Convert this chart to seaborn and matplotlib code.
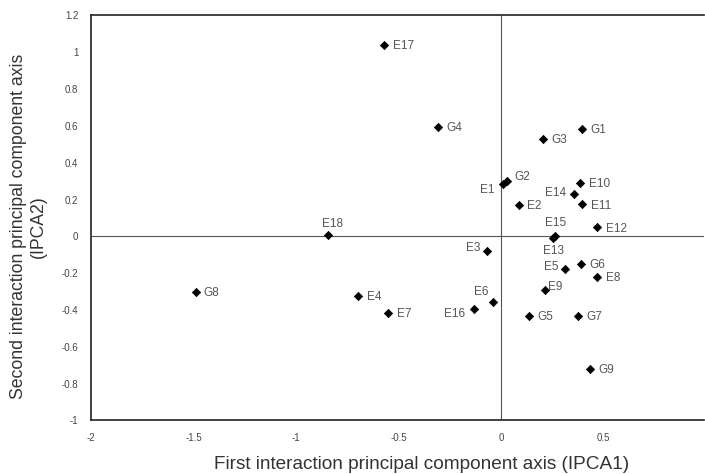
import matplotlib
matplotlib.use("Agg")
import matplotlib.pyplot as plt
import seaborn as sns
import pandas as pd

labels = ["E17", "G4", "G3", "G1", "E1", "G2", "E10", "E14", "E11", "E2",
          "E12", "E15", "E13", "E18", "E3", "G6", "E5", "E8", "E9", "E6",
          "E16", "G5", "G7", "G9", "G8", "E4", "E7"]
ipca1 = [-0.569, -0.309, 0.206, 0.397, 0.010, 0.030, 0.387, 0.358, 0.397, 0.088,
         0.470, 0.265, 0.255, -0.843, -0.069, 0.392, 0.314, 0.470, 0.216, -0.039,
         -0.132, 0.137, 0.377, 0.436, -1.490, -0.696, -0.549]
ipca2 = [1.040, 0.596, 0.530, 0.585, 0.284, 0.300, 0.290, 0.230, 0.175, 0.170,
         0.050, 0.000, -0.010, 0.005, -0.077, -0.148, -0.180, -0.220, -0.290, -0.355,
         -0.393, -0.432, -0.432, -0.720, -0.300, -0.322, -0.415]

xticks = [-2, -1.5, -1, -0.5, 0, 0.5]
yticks = [-1, -0.8, -0.6, -0.4, -0.2, 0, 0.2, 0.4, 0.6, 0.8, 1, 1.2]
ytick_labels = ["-1", "-0.8", "-0.6", "-0.4", "-0.2", "0", "0.2", "0.4", "0.6", "0.8", "1", "1.2"]

df = pd.DataFrame({"label": labels, "IPCA1": ipca1, "IPCA2": ipca2})

sns.set_style("white")
plt.rcParams["font.family"] = ["Liberation Sans", "DejaVu Sans"]

fig = plt.figure(figsize=(7.05, 4.74), dpi=100)
ax = fig.add_axes([0.129, 0.113, 0.8695, 0.8544])

ax.axhline(0, color="#555555", lw=0.8, zorder=1)
ax.axvline(0, color="#555555", lw=0.8, zorder=1)

sns.scatterplot(data=df, x="IPCA1", y="IPCA2", ax=ax, marker="D", s=18,
                color="black", edgecolor="black", linewidth=0.5, zorder=3)

# label offsets in points (dx, dy, ha, va)
offsets = {
    "E1": (-6, -4, "right", "center"),
    "E14": (-6, 1, "right", "center"),
    "E15": (0, 5, "center", "bottom"),
    "E13": (0, -5, "center", "top"),
    "E18": (3, 4, "center", "bottom"),
    "E3": (-5, 2, "right", "center"),
    "E6": (-3, 3, "right", "bottom"),
    "E16": (-6, -4, "right", "center"),
    "E5": (-5, 2, "right", "center"),
    "E9": (2, 2, "left", "center"),
    "G2": (5, 3, "left", "center"),
}
for lab, x, y in zip(labels, ipca1, ipca2):
    dx, dy, ha, va = offsets.get(lab, (6, -1, "left", "center"))
    ax.annotate(lab, (x, y), xytext=(dx, dy), textcoords="offset points",
                ha=ha, va=va, fontsize=8.5, color="#555555")

ax.set_xlim(-2, 0.99)
ax.set_ylim(-1, 1.2)
ax.set_xticks(xticks)
ax.set_xticklabels([str(t) for t in xticks])
ax.set_yticks(yticks)
ax.set_yticklabels(ytick_labels)
ax.tick_params(axis="both", labelsize=7, colors="#444444", length=0, pad=9)

for side in ["left", "top", "bottom"]:
    ax.spines[side].set_color("#222222")
    ax.spines[side].set_linewidth(1.2)
ax.spines["right"].set_visible(False)

ax.set_xlabel("First interaction principal component axis (IPCA1)", fontsize=13.7,
              color="#333333")
ax.xaxis.set_label_coords(0.54, -0.087)
ax.set_ylabel("Second interaction principal component axis\n(IPCA2)", fontsize=12.7,
              color="#333333")
ax.yaxis.set_label_coords(-0.072, 0.478)

fig.savefig("out.png", dpi=100)
